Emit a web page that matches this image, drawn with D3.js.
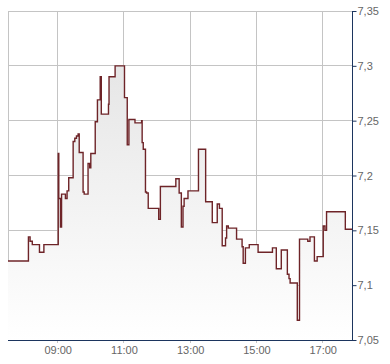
<!DOCTYPE html>
<html>
<head>
<meta charset="utf-8">
<script src="https://cdn.jsdelivr.net/npm/d3@7"></script>
<style>
  body { margin: 0; background: #fff; }
  text { font-family: "Liberation Sans", Arial, sans-serif; font-size: 11px; fill: #666; }
</style>
</head>
<body>
<div id="chart"></div>
<script>
// trade times (step start) and prices
var times = ["07:30","08:07","08:10","08:14","08:27","08:35","09:01","09:02","09:05","09:07",
  "09:14","09:17","09:20","09:28","09:31","09:34","09:37","09:39","09:46","09:48",
  "09:55","09:58","10:00","10:08","10:12","10:17","10:19","10:32","10:33","10:44",
  "11:01","11:06","11:09","11:20","11:32","11:33","11:35","11:39","11:41","11:44",
  "12:03","12:06","12:34","12:40","12:44","12:47","12:49","12:56","13:15","13:28",
  "13:40","13:49","13:53","13:58","14:04","14:06","14:09","14:24","14:34","14:36",
  "14:40","14:47","15:03","15:29","15:36","15:45","15:56","15:59","16:01","16:14",
  "16:18","16:33","16:37","16:45","16:50","17:01","17:04","17:07","17:41","17:54"];
var prices = [7.122,7.144,7.140,7.137,7.130,7.137,7.220,7.179,7.153,7.183,
  7.179,7.186,7.198,7.231,7.234,7.236,7.238,7.221,7.185,7.183,
  7.211,7.207,7.220,7.249,7.269,7.290,7.256,7.265,7.290,7.300,
  7.271,7.228,7.251,7.248,7.250,7.230,7.224,7.185,7.184,7.170,
  7.160,7.190,7.197,7.184,7.153,7.172,7.179,7.186,7.224,7.176,
  7.157,7.174,7.170,7.136,7.143,7.154,7.152,7.142,7.135,7.120,
  7.134,7.137,7.130,7.134,7.115,7.132,7.110,7.106,7.102,7.068,
  7.142,7.140,7.144,7.122,7.126,7.154,7.150,7.167,7.151,7.151];

var yTicks = [7.05, 7.1, 7.15, 7.2, 7.25, 7.3, 7.35];
var yTickLabels = ["7,05", "7,1", "7,15", "7,2", "7,25", "7,3", "7,35"];
var xTicks = ["09:00", "11:00", "13:00", "15:00", "17:00"];
var xStart = "07:30", xEnd = "17:54";

var width = 390, height = 364;
var margin = {top: 11, right: 37.5, bottom: 24, left: 8};

var parseTime = function(s) { return d3.timeParse("%Y-%m-%d %H:%M")("2020-01-02 " + s); };

var data = times.map(function(t, i) { return {t: parseTime(t), v: prices[i]}; });

var xScale = d3.scaleTime()
  .domain([parseTime(xStart), parseTime(xEnd)])
  .range([margin.left, width - margin.right]);

var yScale = d3.scaleLinear()
  .domain([7.05, 7.35])
  .range([height - margin.bottom, margin.top]);

var svg = d3.select("#chart").append("svg")
  .attr("width", width)
  .attr("height", height);

var grad = svg.append("defs").append("linearGradient")
  .attr("id", "fillGrad")
  .attr("x1", 0).attr("y1", 0).attr("x2", 0).attr("y2", 1);
grad.append("stop").attr("offset", "0%").attr("stop-color", "#e6e6e6");
grad.append("stop").attr("offset", "100%").attr("stop-color", "#ffffff");

// grid
var grid = svg.append("g").attr("shape-rendering", "crispEdges");
grid.selectAll(".hgrid")
  .data(yTicks)
  .enter()
  .append("line")
  .attr("x1", margin.left)
  .attr("x2", width - margin.right)
  .attr("y1", function(d) { return yScale(d); })
  .attr("y2", function(d) { return yScale(d); })
  .attr("stroke", "#c4c4c4");

grid.selectAll(".vgrid")
  .data(xTicks)
  .enter()
  .append("line")
  .attr("x1", function(d) { return xScale(parseTime(d)); })
  .attr("x2", function(d) { return xScale(parseTime(d)); })
  .attr("y1", margin.top)
  .attr("y2", height - margin.bottom + 3)
  .attr("stroke", "#c4c4c4");

grid.append("line")
  .attr("x1", margin.left).attr("x2", margin.left)
  .attr("y1", margin.top).attr("y2", height - margin.bottom)
  .attr("stroke", "#c4c4c4");

// area + line
var area = d3.area()
  .curve(d3.curveStepAfter)
  .x(function(d) { return xScale(d.t); })
  .y0(yScale(7.05))
  .y1(function(d) { return yScale(d.v); });

var line = d3.line()
  .curve(d3.curveStepAfter)
  .x(function(d) { return xScale(d.t); })
  .y(function(d) { return yScale(d.v); });

svg.append("path")
  .datum(data)
  .attr("d", area)
  .attr("fill", "url(#fillGrad)");

svg.append("path")
  .datum(data)
  .attr("d", line)
  .attr("fill", "none")
  .attr("stroke", "#6e2428")
  .attr("stroke-width", 1.4);

// right axis
var yAxis = d3.axisRight(yScale)
  .tickValues(yTicks)
  .tickSize(4)
  .tickPadding(1)
  .tickFormat(function(d, i) { return yTickLabels[i]; });

var gy = svg.append("g")
  .attr("transform", "translate(" + (width - margin.right) + ",0)")
  .call(yAxis);
gy.select(".domain").remove();
gy.selectAll("line").attr("stroke", "#1c355e");
gy.selectAll("text").attr("fill", "#666").style("font-size", "11px");

svg.append("line")
  .attr("x1", width - margin.right).attr("x2", width - margin.right)
  .attr("y1", margin.top).attr("y2", height - margin.bottom)
  .attr("stroke", "#1c355e")
  .attr("shape-rendering", "crispEdges");

// bottom axis
var gx = svg.append("g")
  .attr("transform", "translate(0," + (height - margin.bottom) + ")")
  .call(d3.axisBottom(xScale)
    .tickValues(xTicks.map(parseTime))
    .tickSize(0)
    .tickPadding(6)
    .tickFormat(d3.timeFormat("%H:%M")));
gx.select(".domain").remove();
gx.selectAll("text").attr("fill", "#666").style("font-size", "11px");

svg.append("line")
  .attr("x1", margin.left).attr("x2", width - margin.right)
  .attr("y1", height - margin.bottom).attr("y2", height - margin.bottom)
  .attr("stroke", "#1c355e")
  .attr("shape-rendering", "crispEdges");
</script>
</body>
</html>
